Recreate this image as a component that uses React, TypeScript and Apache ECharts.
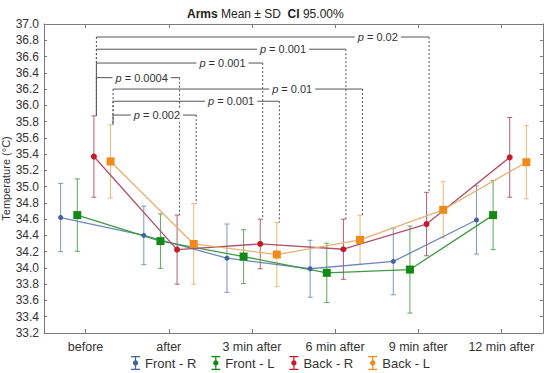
import React, { useEffect, useRef } from 'react';
import * as echarts from 'echarts';

const categories = ['before', 'after', '3 min after', '6 min after', '9 min after', '12 min after'];
const seriesNames = ['Front - R', 'Front - L', 'Back - R', 'Back - L'];

const frontRMean = [34.62, 34.40, 34.12, 33.99, 34.08, 34.59];
const frontRSD = [0.42, 0.36, 0.42, 0.35, 0.41, 0.42];
const frontLMean = [34.65, 34.33, 34.14, 33.94, 33.98, 34.65];
const frontLSD = [0.445, 0.335, 0.33, 0.365, 0.535, 0.425];
const backRMean = [35.37, 34.225, 34.295, 34.23, 34.54, 35.36];
const backRSD = [0.5, 0.425, 0.305, 0.37, 0.39, 0.49];
const backLMean = [35.31, 34.295, 34.165, 34.345, 34.715, 35.3];
const backLSD = [0.45, 0.495, 0.395, 0.305, 0.345, 0.45];

const yMin = 33.2;
const yMax = 37.0;
const yStep = 0.2;

// pairwise comparisons (series index, from category, to category, bracket level, p value)
const cmpSeries = [2, 2, 2, 2, 3, 3, 3];
const cmpFrom = [0, 0, 0, 0, 0, 0, 0];
const cmpTo = [4, 3, 2, 1, 3, 2, 1];
const cmpLevel = [36.84, 36.69, 36.52, 36.34, 36.2, 36.05, 35.88];
const cmpP = ['0.02', '0.001', '0.001', '0.0004', '0.01', '0.001', '0.002'];

// styling
const labelFrac = [0.846, 0.748, 0.758, 0.544, 0.718, 0.71, 0.528];
const offsets = [-0.3, -0.1, 0.1, 0.3];
const markerColors = ['#3f64a0', '#138a13', '#c41a2a', '#f08a1a'];
const lineColors = ['#6a89b8', '#3f9a3f', '#b0506a', '#e8b070'];
const barColors = ['#7d96bf', '#5ca85c', '#b25e70', '#e9b878'];
const symbols = ['circle', 'rect', 'circle', 'rect'];
const symbolSizes = [5, 8, 6, 8];
const FONT = 'Liberation Sans, Arial, Helvetica, sans-serif';

const means = [frontRMean, frontLMean, backRMean, backLMean];
const sds = [frontRSD, frontLSD, backRSD, backLSD];

const legendIcon =
  'path://M0,0h9v1.2h-9z M3.9,0h1.2v14h-1.2z M0,12.8h9v1.2h-9z M4.5,4.3a2.7,2.7 0 1,1 -0.001,0z';

export default function App() {
  const ref = useRef<HTMLDivElement>(null);

  useEffect(() => {
    document.body.style.margin = '0';
    if (!ref.current) return;
    const chart = echarts.init(ref.current, undefined, { renderer: 'svg' });

    const series: any[] = [];
    means.forEach((m, s) => {
      const sd = sds[s];
      series.push({
        type: 'custom',
        name: seriesNames[s] + ' sd',
        xAxisIndex: 2,
        yAxisIndex: 0,
        z: 2,
        silent: true,
        encode: { x: 0, y: [1, 2] },
        data: m.map((v, i) => [i + offsets[s], v - sd[i], v + sd[i]]),
        renderItem: (params: any, api: any) => {
          const x = api.value(0);
          const lo = api.coord([x, api.value(1)]);
          const hi = api.coord([x, api.value(2)]);
          const hw = 2.5;
          const st = { stroke: barColors[s], lineWidth: 1 };
          return {
            type: 'group',
            children: [
              { type: 'line', shape: { x1: hi[0], y1: hi[1], x2: lo[0], y2: lo[1] }, style: st },
              { type: 'line', shape: { x1: hi[0] - hw, y1: hi[1], x2: hi[0] + hw, y2: hi[1] }, style: st },
              { type: 'line', shape: { x1: lo[0] - hw, y1: lo[1], x2: lo[0] + hw, y2: lo[1] }, style: st },
            ],
          };
        },
      });
    });
    means.forEach((m, s) => {
      series.push({
        type: 'line',
        name: seriesNames[s],
        xAxisIndex: 2,
        yAxisIndex: 0,
        z: 3,
        data: m.map((v, i) => [i + offsets[s], v]),
        symbol: symbols[s],
        symbolSize: symbolSizes[s],
        showAllSymbol: true,
        lineStyle: { color: lineColors[s], width: 1.3 },
        itemStyle: { color: markerColors[s], borderWidth: 0 },
      });
    });

    const cmpData = cmpSeries.map((s, k) => {
      const f = cmpFrom[k];
      const t = cmpTo[k];
      return [
        f + offsets[s],
        t + offsets[s],
        cmpLevel[k],
        means[s][f] + sds[s][f],
        means[s][t] + sds[s][t],
      ];
    });

    series.push({
      type: 'custom',
      name: 'comparisons',
      xAxisIndex: 2,
      yAxisIndex: 0,
      z: 4,
      silent: true,
      encode: { x: [0, 1], y: [2, 3, 4] },
      data: cmpData,
      renderItem: (params: any, api: any) => {
        const k = params.dataIndex;
        const a = api.coord([api.value(0), api.value(2)]);
        const b = api.coord([api.value(1), api.value(2)]);
        const aTop = api.coord([api.value(0), api.value(3)]);
        const bTop = api.coord([api.value(1), api.value(4)]);
        const dx = 2.5;
        const x1 = a[0] + dx;
        const x2 = b[0] + dx;
        const y = a[1];
        const lx = x1 + (x2 - x1) * labelFrac[k];
        const dotted = { stroke: '#555', lineWidth: 1, lineDash: [2, 2] };
        const solid = { stroke: '#555', lineWidth: 1 };
        return {
          type: 'group',
          children: [
            { type: 'line', shape: { x1, y1: y, x2: x1, y2: aTop[1] }, style: dotted },
            { type: 'line', shape: { x1: x2, y1: y, x2: x2, y2: bTop[1] }, style: dotted },
            { type: 'line', shape: { x1, y1: y, x2, y2: y }, style: solid },
            {
              type: 'text',
              style: {
                text: '{i|p} = ' + cmpP[k],
                x: lx,
                y: y,
                align: 'center',
                verticalAlign: 'middle',
                fill: '#333',
                fontSize: 11,
                fontFamily: FONT,
                backgroundColor: '#fff',
                padding: [1, 3],
                rich: {
                  i: { fontStyle: 'italic', fontSize: 11, fontFamily: FONT, fill: '#333' },
                },
              },
            },
          ],
        };
      },
    });

    const axisLine = { show: true, onZero: false, lineStyle: { color: '#7a7a7a', width: 1 } };

    chart.setOption({
      animation: false,
      backgroundColor: '#fff',
      title: {
        text: '{b|Arms} Mean ± SD  {b|CI} 95.00%',
        left: 182,
        top: 3,
        textStyle: {
          fontSize: 12,
          fontWeight: 'normal',
          color: '#222',
          fontFamily: FONT,
          rich: {
            b: { fontWeight: 'bold', fontSize: 12, fontFamily: FONT, color: '#222' },
          },
        },
      },
      legend: {
        left: 126,
        top: 351,
        itemWidth: 9,
        itemHeight: 14,
        itemGap: 15,
        selectedMode: false,
        textStyle: { fontSize: 13, color: '#333', fontFamily: FONT },
        data: seriesNames.map((n, s) => ({ name: n, icon: legendIcon, itemStyle: { color: markerColors[s] } })),
      },
      grid: { left: 44, right: 7, top: 24, bottom: 40, containLabel: false, outerBoundsMode: 'none' },
      xAxis: [
        {
          type: 'category',
          data: categories,
          position: 'bottom',
          boundaryGap: true,
          axisLine,
          axisTick: { show: true, inside: true, alignWithLabel: true, length: 4, lineStyle: { color: '#7a7a7a' } },
          axisLabel: { fontSize: 12.5, color: '#333', fontFamily: FONT, margin: 7, interval: 0 },
          splitLine: { show: false },
        },
        {
          type: 'category',
          data: categories,
          position: 'top',
          boundaryGap: true,
          axisLine,
          axisTick: { show: true, inside: true, alignWithLabel: true, length: 4, lineStyle: { color: '#7a7a7a' } },
          axisLabel: { show: false },
          splitLine: { show: false },
        },
        {
          type: 'value',
          min: -0.5,
          max: 5.5,
          show: false,
          axisLine: { show: false, onZero: false },
          splitLine: { show: false },
        },
      ],
      yAxis: [
        {
          type: 'value',
          position: 'left',
          min: yMin,
          max: yMax,
          interval: yStep,
          name: 'Temperature (°C)',
          nameLocation: 'middle',
          nameGap: 33,
          nameMoveOverlap: false,
          nameTextStyle: { fontSize: 11, color: '#333', fontFamily: FONT },
          axisLine,
          axisTick: { show: true, inside: true, length: 3, lineStyle: { color: '#7a7a7a' } },
          axisLabel: {
            fontSize: 12,
            color: '#333',
            fontFamily: FONT,
            margin: 5,
            formatter: (v: number) => v.toFixed(1),
          },
          splitLine: { show: false },
        },
        {
          type: 'value',
          position: 'right',
          min: yMin,
          max: yMax,
          interval: yStep,
          axisLine,
          axisTick: { show: true, inside: true, length: 3, lineStyle: { color: '#7a7a7a' } },
          axisLabel: { show: false },
          splitLine: { show: false },
        },
      ],
      series,
    });

    return () => chart.dispose();
  }, []);

  return <div ref={ref} style={{ width: 550, height: 373 }} />;
}
